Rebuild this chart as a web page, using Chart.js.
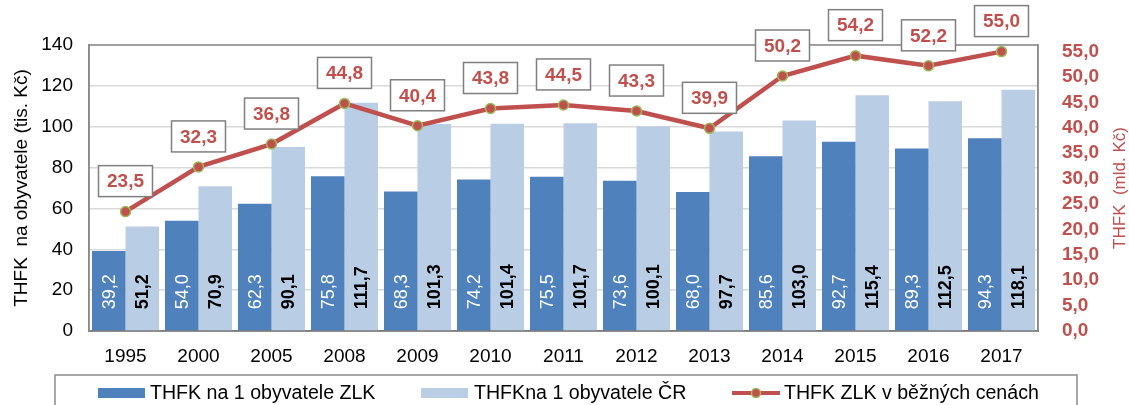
<!DOCTYPE html>
<html>
<head>
<meta charset="utf-8">
<script src="https://cdn.jsdelivr.net/npm/chart.js@4.4.1/dist/chart.umd.min.js"></script>
<style>
html,body{margin:0;padding:0;background:#fff;}
canvas{display:block;}
</style>
</head>
<body>
<canvas id="c" width="1129" height="405" style="width:1129px;height:405px"></canvas>
<script>
const categories = ['1995','2000','2005','2008','2009','2010','2011','2012','2013','2014','2015','2016','2017'];
const perCapitaZLK = [39.2, 54.0, 62.3, 75.8, 68.3, 74.2, 75.5, 73.6, 68.0, 85.6, 92.7, 89.3, 94.3];
const perCapitaCR = [51.2, 70.9, 90.1, 111.7, 101.3, 101.4, 101.7, 100.1, 97.7, 103.0, 115.4, 112.5, 118.1];
const gdpZLK = [23.5, 32.3, 36.8, 44.8, 40.4, 43.8, 44.5, 43.3, 39.9, 50.2, 54.2, 52.2, 55.0];
const rightTicks = [0, 5, 10, 15, 20, 25, 30, 35, 40, 45, 50, 55];
const seriesNames = ['THFK na 1 obyvatele ZLK', 'THFKna 1 obyvatele ČR', 'THFK ZLK v běžných cenách'];
const leftTitle = 'THFK  na obyvatele (tis. Kč)';
const rightTitle = 'THFK  (mld. Kč)';

const FONT = '"Liberation Sans", Arial, sans-serif';
const DARK = '#4F81BD', LIGHT = '#B9CDE5', RED = '#C0504D', GREEN = '#9BBB59';
const fmt = v => v.toFixed(1).replace('.', ',');

const labelPlugin = {
  id: 'customLabels',
  beforeDatasetsDraw(chart) {
    const {ctx, chartArea: a} = chart;
    ctx.save();
    ctx.strokeStyle = '#8a8a8a';
    ctx.lineWidth = 1.5;
    ctx.strokeRect(a.left, a.top, a.right - a.left, a.bottom - a.top);
    ctx.restore();
  },
  afterDatasetsDraw(chart) {
    const ctx = chart.ctx;
    [0, 1].forEach(di => {
      const meta = chart.getDatasetMeta(di);
      meta.data.forEach((el, i) => {
        const v = chart.data.datasets[di].data[i];
        ctx.save();
        ctx.translate(el.x, el.base - 21);
        ctx.rotate(-Math.PI / 2);
        ctx.font = (di === 1 ? 'bold ' : '') + '18px ' + FONT;
        ctx.fillStyle = di === 0 ? '#ffffff' : '#000000';
        ctx.textAlign = 'left';
        ctx.textBaseline = 'middle';
        ctx.fillText(fmt(v), 0, 1);
        ctx.restore();
      });
    });
    const lm = chart.getDatasetMeta(2);
    lm.data.forEach((el, i) => {
      const t = fmt(chart.data.datasets[2].data[i]);
      ctx.save();
      ctx.font = 'bold 19px ' + FONT;
      const w = ctx.measureText(t).width + 17;
      const h = 31;
      const x = el.x - w / 2, y = el.y - 15 - h;
      ctx.fillStyle = '#ffffff';
      ctx.fillRect(x, y, w, h);
      ctx.strokeStyle = '#7f7f7f';
      ctx.lineWidth = 1.5;
      ctx.strokeRect(x, y, w, h);
      ctx.fillStyle = RED;
      ctx.textAlign = 'center';
      ctx.textBaseline = 'middle';
      ctx.fillText(t, el.x, y + h / 2 + 1);
      ctx.restore();
    });
  },
  afterDraw(chart) {
    const ctx = chart.ctx;
    const a = chart.chartArea;
    ctx.save();
    // right axis title (reads bottom-to-top)
    ctx.translate(1120, (a.top + a.bottom) / 2);
    ctx.rotate(-Math.PI / 2);
    ctx.font = '17px ' + FONT;
    ctx.fillStyle = RED;
    ctx.textAlign = 'center';
    ctx.textBaseline = 'middle';
    ctx.fillText(rightTitle, 0, 0);
    ctx.restore();

    ctx.save();
    ctx.strokeStyle = '#8a8a8a';
    ctx.lineWidth = 1.5;
    ctx.strokeRect(55, 375, 1022, 40);
    const cy = 393;
    ctx.font = '19.6px ' + FONT;
    ctx.textBaseline = 'middle';
    ctx.textAlign = 'left';
    ctx.fillStyle = DARK; ctx.fillRect(98, cy - 5, 47, 10);
    ctx.fillStyle = '#000'; ctx.fillText(seriesNames[0], 150, cy + 1);
    ctx.fillStyle = LIGHT; ctx.fillRect(421, cy - 5, 47, 10);
    ctx.fillStyle = '#000'; ctx.fillText(seriesNames[1], 474, cy + 1);
    ctx.strokeStyle = RED; ctx.lineWidth = 4;
    ctx.beginPath(); ctx.moveTo(732, cy); ctx.lineTo(780, cy); ctx.stroke();
    ctx.beginPath(); ctx.arc(756, cy, 4.5, 0, Math.PI * 2);
    ctx.fillStyle = RED; ctx.fill();
    ctx.strokeStyle = GREEN; ctx.lineWidth = 1.5; ctx.stroke();
    ctx.fillStyle = '#000'; ctx.fillText(seriesNames[2], 784, cy + 1);
    ctx.restore();
  }
};

new Chart(document.getElementById('c'), {
  data: {
    labels: categories,
    datasets: [
      { type: 'bar', label: seriesNames[0], data: perCapitaZLK, backgroundColor: DARK, yAxisID: 'y', order: 2,
        categoryPercentage: 0.918, barPercentage: 1.0 },
      { type: 'bar', label: seriesNames[1], data: perCapitaCR, backgroundColor: LIGHT, yAxisID: 'y', order: 2,
        categoryPercentage: 0.918, barPercentage: 1.0 },
      { type: 'line', label: seriesNames[2], data: gdpZLK, borderColor: RED, borderWidth: 4.5, yAxisID: 'y1', order: 0,
        pointRadius: 5, pointBackgroundColor: RED, pointBorderColor: GREEN, pointBorderWidth: 1.5, tension: 0 }
    ]
  },
  options: {
    responsive: false,
    animation: false,
    devicePixelRatio: 1,
    layout: { padding: { top: 45, bottom: 33, left: 0, right: 0 } },
    plugins: { legend: { display: false }, tooltip: { enabled: false } },
    scales: {
      x: {
        grid: { display: false, drawTicks: false },
        border: { color: '#505050', width: 1.5 },
        ticks: { color: '#000', font: { family: FONT, size: 19 }, padding: 14, maxRotation: 0 },
        afterFit(s) { s.height = 41; }
      },
      y: {
        position: 'left', min: 0, max: 140,
        ticks: { stepSize: 20, color: '#000', font: { family: FONT, size: 19 }, padding: 16 },
        grid: { color: '#d9d9d9', lineWidth: 1.5, drawTicks: false },
        border: { color: '#8a8a8a', width: 1.5 },
        title: { display: true, text: leftTitle, color: '#000', font: { family: FONT, size: 19 }, padding: { top: 10, bottom: 0 } },
        afterFit(s) { s.width = 89; }
      },
      y1: {
        position: 'right', min: 0, max: 56.3,
        afterBuildTicks(s) { s.ticks = rightTicks.map(v => ({ value: v })); },
        ticks: { color: RED, font: { family: FONT, size: 19, weight: 'bold' }, padding: 24, callback: v => fmt(v) },
        grid: { display: false, drawTicks: false },
        border: { color: '#8a8a8a', width: 1.5 },
        title: { display: false },
        afterFit(s) { s.width = 91; }
      }
    }
  },
  plugins: [labelPlugin]
});
</script>
</body>
</html>
